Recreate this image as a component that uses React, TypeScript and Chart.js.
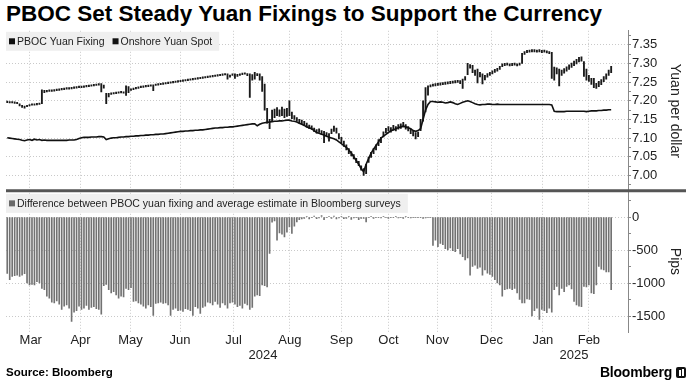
import React, { useEffect, useRef } from 'react';
import { Chart, registerables } from 'chart.js';
Chart.register(...registerables);

// ---------- DATA ----------
const monthLabels = ['Mar', 'Apr', 'May', 'Jun', 'Jul', 'Aug', 'Sep', 'Oct', 'Nov', 'Dec', 'Jan', 'Feb'];
// month boundaries, in trading-day index units
const monthBounds = [-0.3, 19.3, 39.9, 59.7, 79.9, 102.9, 125.5, 144.5, 163.5, 184.1, 207.1, 225.7, 244.3];
const yearLabels = ['2024', '2025'];
const yearBounds = [-0.5, 207.1, 250.8];
const X_MIN = -0.5;
const X_MAX = 250.8;

const yuanTicks = [6.975, 7.0, 7.025, 7.05, 7.075, 7.1, 7.125, 7.15, 7.175, 7.2, 7.225, 7.25, 7.275, 7.3, 7.325, 7.35, 7.375];
const pipTicks = [-1500, -1250, -1000, -750, -500, -250, 0, 250];

const fixing = [
  7.101, 7.100, 7.099, 7.098, 7.097, 7.096, 7.094, 7.093, 7.095, 7.096,
  7.094, 7.097, 7.095, 7.096, 7.094, 7.095, 7.094, 7.094, 7.094, 7.094,
  7.094, 7.094, 7.094, 7.094, 7.094, 7.095, 7.095, 7.095, 7.096, 7.099,
  7.101, 7.102, 7.102, 7.102, 7.103, 7.103, 7.103, 7.104, 7.104, 7.103,
  7.096, 7.098, 7.100, 7.101, 7.101, 7.102, 7.103, 7.103, 7.104, 7.104,
  7.105, 7.105, 7.106, 7.106, 7.107, 7.107, 7.108, 7.108, 7.109, 7.109,
  7.110, 7.110, 7.111, 7.111, 7.112, 7.113, 7.114, 7.115, 7.116, 7.117,
  7.118, 7.118, 7.119, 7.119, 7.120, 7.120, 7.121, 7.121, 7.122, 7.122,
  7.123, 7.124, 7.125, 7.126, 7.127, 7.127, 7.128, 7.128, 7.129, 7.129,
  7.130, 7.130, 7.131, 7.132, 7.133, 7.134, 7.135, 7.136, 7.137, 7.138,
  7.138, 7.133, 7.137, 7.140, 7.141, 7.142, 7.143, 7.144, 7.145, 7.145,
  7.146, 7.146, 7.147, 7.148, 7.148, 7.146, 7.145, 7.143, 7.140, 7.137,
  7.134, 7.130, 7.128, 7.125, 7.120, 7.115, 7.113, 7.110, 7.108, 7.105,
  7.102, 7.100, 7.098, 7.095, 7.090, 7.085, 7.080, 7.075, 7.068, 7.060,
  7.050, 7.040, 7.030, 7.018, 7.010, 7.030, 7.045, 7.060, 7.070, 7.080,
  7.090, 7.100, 7.105, 7.110, 7.115, 7.120, 7.122, 7.125, 7.128, 7.130,
  7.132, 7.130, 7.128, 7.125, 7.120, 7.118, 7.120, 7.125, 7.150, 7.175,
  7.190, 7.198, 7.198, 7.197, 7.196, 7.197, 7.196, 7.194, 7.195, 7.197,
  7.195, 7.192, 7.190, 7.193, 7.196, 7.198, 7.200, 7.198, 7.195, 7.192,
  7.190, 7.189, 7.190, 7.190, 7.191, 7.191, 7.190, 7.190, 7.191, 7.190,
  7.190, 7.190, 7.190, 7.190, 7.190, 7.190, 7.190, 7.190, 7.190, 7.190,
  7.190, 7.190, 7.190, 7.190, 7.190, 7.190, 7.190, 7.190, 7.190, 7.190,
  7.189, 7.172, 7.171, 7.171, 7.171, 7.171, 7.172, 7.172, 7.172, 7.172,
  7.172, 7.172, 7.172, 7.172, 7.171, 7.172, 7.173, 7.173, 7.173, 7.174,
  7.174, 7.175, 7.175, 7.176, 7.176,
];

const spotLow = [
  7.195, 7.194, 7.194, 7.193, 7.192, 7.186, 7.182, 7.180, 7.184, 7.186,
  7.188, 7.188, 7.189, 7.190, 7.192, 7.222, 7.224, 7.225, 7.225, 7.226,
  7.227, 7.228, 7.229, 7.230, 7.231, 7.231, 7.232, 7.233, 7.234, 7.235,
  7.235, 7.236, 7.237, 7.238, 7.239, 7.240, 7.241, 7.242, 7.224, 7.234,
  7.192, 7.210, 7.217, 7.218, 7.219, 7.220, 7.221, 7.220, 7.214, 7.222,
  7.228, 7.230, 7.232, 7.233, 7.235, 7.236, 7.237, 7.238, 7.239, 7.227,
  7.241, 7.242, 7.243, 7.244, 7.245, 7.246, 7.247, 7.248, 7.249, 7.250,
  7.251, 7.252, 7.253, 7.254, 7.255, 7.256, 7.257, 7.258, 7.259, 7.260,
  7.261, 7.262, 7.263, 7.264, 7.265, 7.266, 7.267, 7.268, 7.269, 7.258,
  7.263, 7.268, 7.260, 7.265, 7.268, 7.270, 7.271, 7.267, 7.209, 7.255,
  7.258, 7.267, 7.255, 7.225, 7.175, 7.140, 7.125, 7.145, 7.155, 7.160,
  7.158, 7.160, 7.155, 7.158, 7.160, 7.152, 7.150, 7.145, 7.140, 7.138,
  7.135, 7.130, 7.125, 7.123, 7.117, 7.113, 7.115, 7.110, 7.088, 7.105,
  7.092, 7.112, 7.118, 7.113, 7.098, 7.088, 7.078, 7.068, 7.058, 7.052,
  7.044, 7.034, 7.026, 7.014, 7.000, 7.005, 7.035, 7.048, 7.058, 7.068,
  7.080, 7.088, 7.103, 7.114, 7.119, 7.116, 7.122, 7.119, 7.124, 7.126,
  7.130, 7.124, 7.119, 7.112, 7.106, 7.098, 7.104, 7.120, 7.145, 7.170,
  7.215, 7.237, 7.239, 7.240, 7.241, 7.242, 7.243, 7.244, 7.245, 7.246,
  7.247, 7.248, 7.249, 7.246, 7.233, 7.255, 7.270, 7.287, 7.275, 7.268,
  7.248, 7.264, 7.245, 7.256, 7.263, 7.268, 7.272, 7.276, 7.279, 7.284,
  7.291, 7.294, 7.295, 7.293, 7.294, 7.295, 7.293, 7.295, 7.300, 7.324,
  7.329, 7.330, 7.331, 7.331, 7.330, 7.331, 7.329, 7.330, 7.328, 7.326,
  7.260, 7.255, 7.272, 7.240, 7.268, 7.274, 7.279, 7.284, 7.289, 7.294,
  7.299, 7.304, 7.306, 7.265, 7.255, 7.252, 7.244, 7.235, 7.233, 7.238,
  7.243, 7.251, 7.258, 7.268, 7.275,
];

const spotHigh = [
  7.199, 7.198, 7.198, 7.197, 7.196, 7.192, 7.188, 7.186, 7.188, 7.190,
  7.192, 7.192, 7.193, 7.194, 7.229, 7.228, 7.228, 7.229, 7.229, 7.230,
  7.231, 7.232, 7.233, 7.234, 7.235, 7.235, 7.236, 7.237, 7.238, 7.239,
  7.239, 7.240, 7.241, 7.242, 7.243, 7.244, 7.245, 7.246, 7.246, 7.242,
  7.220, 7.220, 7.221, 7.222, 7.223, 7.224, 7.225, 7.224, 7.240, 7.238,
  7.232, 7.234, 7.236, 7.237, 7.239, 7.240, 7.241, 7.242, 7.243, 7.243,
  7.245, 7.246, 7.247, 7.248, 7.249, 7.250, 7.251, 7.252, 7.253, 7.254,
  7.255, 7.256, 7.257, 7.258, 7.259, 7.260, 7.261, 7.262, 7.263, 7.264,
  7.265, 7.266, 7.267, 7.268, 7.269, 7.270, 7.271, 7.272, 7.273, 7.272,
  7.269, 7.272, 7.272, 7.271, 7.272, 7.274, 7.275, 7.273, 7.272, 7.270,
  7.276, 7.273, 7.272, 7.265, 7.245, 7.180, 7.150, 7.175, 7.178, 7.182,
  7.176, 7.183, 7.178, 7.180, 7.200, 7.170, 7.160, 7.155, 7.150, 7.148,
  7.145, 7.140, 7.135, 7.133, 7.127, 7.123, 7.125, 7.120, 7.118, 7.115,
  7.112, 7.124, 7.132, 7.127, 7.112, 7.102, 7.092, 7.082, 7.072, 7.064,
  7.056, 7.046, 7.038, 7.026, 7.018, 7.030, 7.049, 7.062, 7.072, 7.082,
  7.096, 7.102, 7.117, 7.126, 7.131, 7.128, 7.134, 7.131, 7.136, 7.138,
  7.142, 7.136, 7.131, 7.124, 7.118, 7.115, 7.116, 7.150, 7.200, 7.235,
  7.240, 7.243, 7.245, 7.246, 7.247, 7.248, 7.249, 7.250, 7.251, 7.252,
  7.253, 7.254, 7.255, 7.254, 7.258, 7.265, 7.300, 7.297, 7.295, 7.282,
  7.285, 7.276, 7.272, 7.268, 7.273, 7.276, 7.280, 7.284, 7.287, 7.292,
  7.299, 7.300, 7.301, 7.299, 7.300, 7.301, 7.299, 7.301, 7.327, 7.332,
  7.335, 7.336, 7.337, 7.337, 7.336, 7.337, 7.335, 7.336, 7.334, 7.332,
  7.330, 7.290, 7.288, 7.285, 7.282, 7.286, 7.291, 7.296, 7.301, 7.306,
  7.311, 7.316, 7.318, 7.305, 7.285, 7.268, 7.260, 7.260, 7.247, 7.252,
  7.257, 7.265, 7.272, 7.282, 7.292,
];

const diffPips = [
  -853, -950, -900, -890, -880, -900, -880, -860, -1000, -1030,
  -1020, -1030, -980, -1000, -1080, -1100, -1200, -1230, -1290, -1300,
  -1270, -1320, -1400, -1350, -1330, -1380, -1580, -1440, -1420, -1350,
  -1400, -1380, -1340, -1400, -1370, -1360, -1390, -1400, -1470, -1040,
  -1020, -1100, -1150, -1130, -1180, -1230, -1200, -1210, -1080, -1100,
  -1070, -1280, -1270, -1300, -1320, -1350, -1380, -1330, -1360, -1490,
  -1310, -1300, -1290, -1310, -1300, -1330, -1490, -1400, -1380, -1420,
  -1410, -1430, -1390, -1400, -1420, -1490, -1360, -1380, -1460, -1370,
  -1350, -1290, -1300, -1330, -1280, -1320, -1370, -1300, -1330, -1380,
  -1300, -1290, -1320, -1360, -1340, -1380, -1310, -1330, -1400, -1370,
  -1200, -1180, -1190, -1030, -1040, -1060, -550, -80, -60, -350,
  -240, -260, -300, -230, -150, -250, -140, -75, -40, -30,
  -20, 10, -30, -10, 15, -25, -15, 20, -40, -10,
  5, -20, 15, -30, -15, 10, -25, -20, 5, -35,
  -15, -10, -40, -20, -20, -75, -10, 10, -20, -10,
  -5, -15, 5, -10, -20, -5, -10, 10, -15, -5,
  -20, 5, -10, -15, -5, -10, -5, -10, -20, -15,
  -10, -5, -430, -350, -450, -400, -420, -480, -500, -470,
  -510, -525, -480, -560, -600, -650, -620, -880, -750, -730,
  -780, -760, -880, -800, -850, -870, -900, -950, -1000, -1030,
  -1200, -1100, -1090, -1080, -1100, -1080, -1150, -1250, -1300, -1300,
  -1240, -1250, -1500, -1420, -1380, -1550, -1400, -1420, -1450, -1380,
  -1440, -1100, -1050, -1180, -1080, -1130, -1050, -1030, -1090, -1280,
  -1330, -1350, -1360, -1050, -1060, -1030, -1150, -1160, -1030, -750,
  -790, -800, -830, -830, -1100,
];

const FONT = '"Liberation Sans", Arial, Helvetica, sans-serif';

export default function App() {
  const ref = useRef<HTMLCanvasElement>(null);

  useEffect(() => {
    document.body.style.margin = '0';
    const canvas = ref.current;
    if (!canvas) return;

    const isMajorYuan = (v: number) => Math.abs(v * 20 - Math.round(v * 20)) < 1e-6;
    const isMajorPip = (v: number) => Math.abs(v % 500) < 1e-6;
    const monthMid = monthLabels.map((_, i) => (monthBounds[i] + monthBounds[i + 1]) / 2);
    const yearMid = yearLabels.map((_, i) => (yearBounds[i] + yearBounds[i + 1]) / 2);

    const panelPlugin = {
      id: 'panelDecor',
      afterDraw(chart: any) {
        const c = chart.ctx as CanvasRenderingContext2D;
        const yt = chart.scales.yTop;
        const yb = chart.scales.yBot;
        const left = chart.chartArea.left;
        c.save();
        // separator between panels
        c.strokeStyle = '#555555';
        c.lineWidth = 3;
        c.beginPath();
        c.moveTo(left, yt.bottom);
        c.lineTo(686, yt.bottom);
        c.stroke();

        const drawLegend = (top: number, items: { label: string; color: string }[]) => {
          c.font = `10.5px ${FONT}`;
          const sq = 6;
          const widths = items.map((it) => c.measureText(it.label).width);
          let total = 3;
          widths.forEach((w, i) => {
            total += sq + 2 + w + (i < widths.length - 1 ? 8 : 7);
          });
          const h = 19;
          c.fillStyle = '#efefef';
          c.fillRect(left, top, total, h);
          let x = left + 3;
          const cy = top + h / 2;
          items.forEach((it, i) => {
            c.fillStyle = it.color;
            c.fillRect(x, cy - sq / 2, sq, sq);
            x += sq + 2;
            c.fillStyle = '#222';
            c.textBaseline = 'middle';
            c.textAlign = 'left';
            c.fillText(it.label, x, cy + 0.5);
            x += widths[i] + 8;
          });
        };
        drawLegend(yt.top + 1, [
          { label: 'PBOC Yuan Fixing', color: '#111' },
          { label: 'Onshore Yuan Spot', color: '#111' },
        ]);
        drawLegend(yb.top + 3, [
          { label: 'Difference between PBOC yuan fixing and average estimate in Bloomberg surveys', color: '#6a6a6a' },
        ]);
        c.restore();
      },
    };

    Chart.defaults.font.family = FONT;

    const chart = new Chart(canvas, {
      type: 'bar',
      data: {
        datasets: [
          {
            type: 'line',
            label: 'PBOC Yuan Fixing',
            data: fixing.map((v, i) => ({ x: i, y: v })),
            xAxisID: 'x',
            yAxisID: 'yTop',
            borderColor: '#111111',
            borderWidth: 1.6,
            pointRadius: 0,
            tension: 0,
            order: 0,
          } as any,
          {
            type: 'bar',
            label: 'Onshore Yuan Spot',
            data: spotLow.map((lo, i) => ({ x: i, y: [lo, spotHigh[i]] })),
            xAxisID: 'x',
            yAxisID: 'yTop',
            backgroundColor: '#1a1a1a',
            borderWidth: 0,
            barThickness: 1.2,
            grouped: false,
            order: 1,
          } as any,
          {
            type: 'bar',
            label: 'Difference',
            data: diffPips.map((v, i) => ({ x: i, y: v })),
            xAxisID: 'x',
            yAxisID: 'yBot',
            backgroundColor: '#727272',
            borderWidth: 0,
            barThickness: 1.0,
            grouped: false,
            order: 2,
          } as any,
        ],
      },
      options: {
        animation: false,
        responsive: false,
        maintainAspectRatio: false,
        events: [],
        layout: { padding: { top: 0, right: 6, bottom: 2, left: 6 } },
        plugins: { legend: { display: false }, tooltip: { enabled: false }, title: { display: false } },
        scales: {
          x: {
            type: 'linear',
            min: X_MIN,
            max: X_MAX,
            bounds: 'data',
            offset: false,
            position: 'bottom',
            afterBuildTicks: (s: any) => {
              s.ticks = monthBounds.slice(1).map((v) => ({ value: v }));
            },
            ticks: { display: false },
            grid: { color: '#c9c9c9', lineWidth: 1, drawTicks: false },
            border: { display: false, dash: [1, 2] },
            afterFit: (s: any) => {
              s.height = 0;
            },
          },
          xMonth: {
            type: 'linear',
            min: X_MIN,
            max: X_MAX,
            bounds: 'data',
            offset: false,
            position: 'bottom',
            afterBuildTicks: (s: any) => {
              s.ticks = monthMid.map((v) => ({ value: v }));
            },
            ticks: {
              autoSkip: false,
              maxRotation: 0,
              padding: 1,
              color: '#222',
              font: { family: FONT, size: 13 },
              callback: (_v: any, i: number) => monthLabels[i],
            },
            grid: { display: false, drawTicks: false },
            border: { display: false },
            afterFit: (s: any) => {
              s.height = 16;
            },
          },
          xYear: {
            type: 'linear',
            min: X_MIN,
            max: X_MAX,
            bounds: 'data',
            offset: false,
            position: 'bottom',
            afterBuildTicks: (s: any) => {
              s.ticks = yearMid.map((v) => ({ value: v }));
            },
            ticks: {
              autoSkip: false,
              maxRotation: 0,
              padding: 0,
              color: '#222',
              font: { family: FONT, size: 13 },
              callback: (_v: any, i: number) => yearLabels[i],
            },
            grid: { display: false, drawTicks: false },
            border: { display: false },
            afterFit: (s: any) => {
              s.height = 16;
            },
          },
          yTop: {
            type: 'linear',
            position: 'right',
            stack: 'panels',
            stackWeight: 160.5,
            min: 6.9586,
            max: 7.3874,
            bounds: 'data',
            afterBuildTicks: (s: any) => {
              s.ticks = yuanTicks.map((v) => ({ value: v }));
            },
            ticks: {
              autoSkip: false,
              padding: 1,
              color: '#222',
              font: { family: FONT, size: 13 },
              callback: (v: any) => (isMajorYuan(Number(v)) ? Number(v).toFixed(2) : ''),
            },
            grid: {
              color: (ctx: any) => (ctx.tick && isMajorYuan(ctx.tick.value) ? '#c9c9c9' : 'rgba(0,0,0,0)'),
              tickColor: '#888',
              tickLength: 3,
              drawTicks: true,
            },
            border: { display: true, color: '#888', width: 1, dash: [1, 2] },
            title: {
              display: true,
              text: 'Yuan per dollar',
              color: '#222',
              font: { family: FONT, size: 14 },
              padding: { top: 4, bottom: 0 },
            },
            afterFit: (s: any) => {
              s.width = 59;
            },
          },
          yBot: {
            type: 'linear',
            position: 'right',
            stack: 'panels',
            stackWeight: 141.5,
            min: -1742,
            max: 396,
            bounds: 'data',
            afterBuildTicks: (s: any) => {
              s.ticks = pipTicks.map((v) => ({ value: v }));
            },
            ticks: {
              autoSkip: false,
              padding: 1,
              color: '#222',
              font: { family: FONT, size: 13 },
              callback: (v: any) => (isMajorPip(Number(v)) ? String(v) : ''),
            },
            grid: {
              color: (ctx: any) => (ctx.tick && isMajorPip(ctx.tick.value) ? '#c9c9c9' : 'rgba(0,0,0,0)'),
              tickColor: '#888',
              tickLength: 3,
              drawTicks: true,
            },
            border: { display: true, color: '#888', width: 1, dash: [1, 2] },
            title: {
              display: true,
              text: 'Pips',
              color: '#222',
              font: { family: FONT, size: 14 },
              padding: { top: 4, bottom: 0 },
            },
            afterFit: (s: any) => {
              s.width = 59;
            },
          },
        },
      } as any,
      plugins: [panelPlugin],
    });

    return () => {
      chart.destroy();
    };
  }, []);

  return (
    <div
      style={{
        position: 'relative',
        width: 693,
        height: 386,
        background: '#fff',
        overflow: 'hidden',
        fontFamily: FONT,
      }}
    >
      <div
        style={{
          position: 'absolute',
          left: 6,
          top: 0,
          fontSize: 22.5,
          lineHeight: '28px',
          fontWeight: 700,
          color: '#000',
          whiteSpace: 'nowrap',
        }}
      >
        PBOC Set Steady Yuan Fixings to Support the Currency
      </div>
      <canvas
        ref={ref}
        width={693}
        height={344}
        style={{ position: 'absolute', left: 0, top: 22, width: 693, height: 344 }}
      />
      <div
        style={{
          position: 'absolute',
          left: 6,
          top: 364,
          fontSize: 11.5,
          lineHeight: '16px',
          fontWeight: 700,
          color: '#000',
        }}
      >
        Source: Bloomberg
      </div>
      <div
        style={{
          position: 'absolute',
          right: 7,
          top: 362,
          display: 'flex',
          alignItems: 'center',
          gap: 4,
        }}
      >
        <span style={{ fontSize: 14, lineHeight: '20px', fontWeight: 700, color: '#000', letterSpacing: -0.2 }}>
          Bloomberg
        </span>
        <span
          style={{
            display: 'inline-block',
            width: 10,
            height: 11,
            background: '#111',
            borderRadius: 2,
            position: 'relative',
          }}
        >
          <span style={{ position: 'absolute', left: 3, top: 3, width: 1.5, height: 6, background: '#fff' }} />
          <span style={{ position: 'absolute', left: 6, top: 2, width: 1.5, height: 7, background: '#fff' }} />
        </span>
      </div>
    </div>
  );
}
